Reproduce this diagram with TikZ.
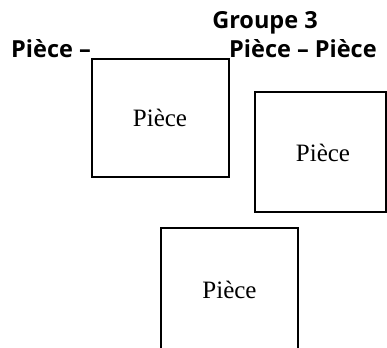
\documentclass[tikz,border=0pt]{standalone}
\usepackage{fontspec}
\setmainfont{Liberation Serif}
\newfontfamily\labelfont{Open Sans}
\begin{document}
\begin{tikzpicture}[x=1pt,y=-1pt,
  room/.style={draw=black,line width=2.3pt,fill=white},
  roomtext/.style={font=\fontsize{25}{28}\selectfont,inner sep=0pt,anchor=base},
  heading/.style={font=\labelfont\bfseries\fontsize{23.5}{26}\selectfont,inner sep=0pt}]
  \useasboundingbox (0,0) rectangle (387,347);
  % rooms
  \draw[room] (92,177) -- (92,59) -- (229,59) -- (229,177) -- cycle;
  \draw[room] (255,212) -- (255,92) -- (386,92) -- (386,212) -- cycle;
  \draw[room] (161,349) -- (161,228) -- (298,228) -- (298,349);
  \node[roomtext] (r1) at (160,127) {Pièce};
  \node[roomtext] (r2) at (323,162) {Pièce};
  \node[roomtext] (r3) at (229.5,298) {Pièce};
  % headings
  \node[heading,anchor=base] (g3) at (265,29) {Groupe 3};
  \node[heading,anchor=base west] (hl) at (11,58) {Pièce –};
  \node[heading,anchor=base west] (hr) at (229,58) {Pièce – Pièce};
\end{tikzpicture}
\end{document}
